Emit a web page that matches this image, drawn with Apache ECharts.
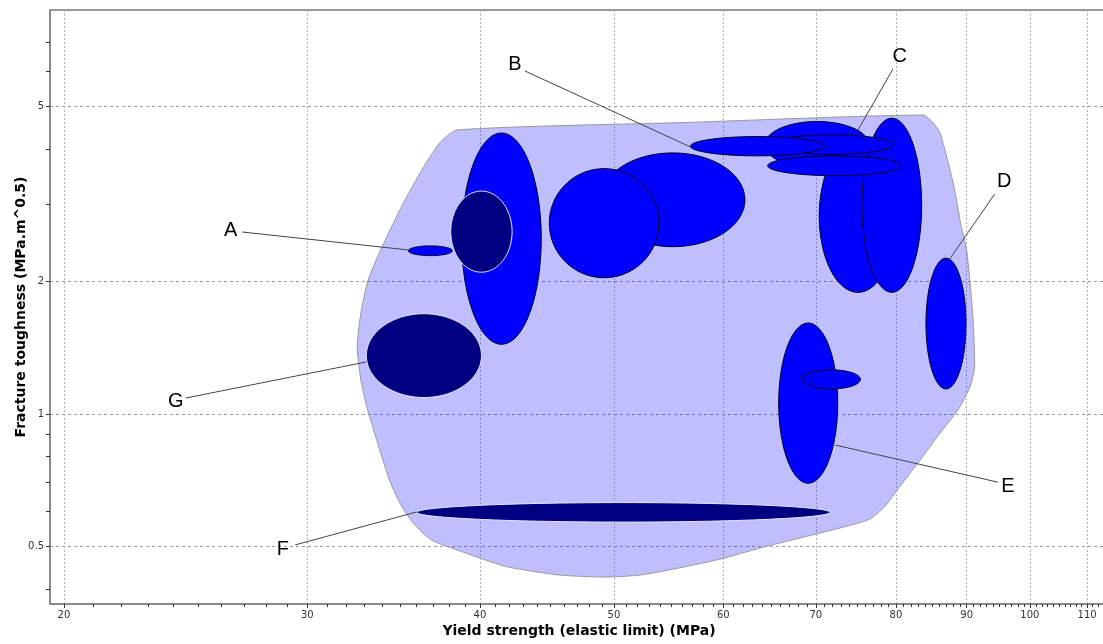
<!DOCTYPE html>
<html><head><meta charset="utf-8">
<script src="https://cdn.jsdelivr.net/npm/echarts@6/dist/echarts.min.js"></script>
<style>html,body{margin:0;padding:0;background:#fff}#c{width:1103px;height:644px}</style>
</head><body><div id="c"></div>
<script>
// ---- axis ranges and ticks (data units) ----
const X_MIN = 19.54, X_MAX = 113.9;
const Y_MIN = 0.370, Y_MAX = 8.28;
const xMajorTicks = [20, 30, 40, 50, 60, 70, 80, 90, 100, 110];
const xMinorTicks = [21,22,23,24,25,26,27,28,29,31,32,33,34,35,36,37,38,39,41,42,43,44,45,46,47,48,49,
  51,52,53,54,55,56,57,58,59,61,62,63,64,65,66,67,68,69,71,72,73,74,75,76,77,78,79,
  81,82,83,84,85,86,87,88,89,91,92,93,94,95,96,97,98,99,101,102,103,104,105,106,107,108,109,111,112,113];
const yMajorTicks = [0.5, 1, 2, 5];
const yMinorTicks = [0.4, 0.6, 0.7, 0.8, 0.9, 3, 4, 6, 7];

// ---- material bubbles (ranges: yield strength MPa, toughness MPa.m^0.5), in drawing order ----
const bubbleXMin = [38.8, 38.1, 35.5, 48.9, 44.9, 64.3, 70.4, 75.6, 64.9, 56.8, 64.6, 84.1, 65.8, 68.4, 33.1, 36.0];
const bubbleXMax = [44.3, 42.2, 38.2, 62.2, 53.9, 76.5, 80.1, 83.5, 79.6, 71.0, 80.7, 89.9, 72.6, 75.4, 40.1, 71.7];
const bubbleYMin = [1.44, 2.10, 2.29, 2.40, 2.04, 3.62, 1.89, 1.89, 3.89, 3.86, 3.48, 1.14, 0.696, 1.14, 1.09, 0.568];
const bubbleYMax = [4.35, 3.21, 2.41, 3.92, 3.61, 4.62, 4.20, 4.70, 4.31, 4.27, 3.86, 2.26, 1.61, 1.26, 1.69, 0.629];
const bubbleKind = ['blue','navy','blue','blue','blue','blue','blue','blue','blue','blue','blue','blue','blue','blue','navy','navy'];

// ---- family envelope outline ----
const envX = [38.5, 56.8, 83.7, 85.0, 86.1, 88.0, 89.2, 90.0, 90.9, 91.2, 90.5, 88.7, 86.1, 83.3, 80.5, 78.6, 76.6, 72.9, 68.2, 63.8, 59.7, 55.2, 52.2, 49.4, 45.7, 41.8, 38.5, 36.9, 35.8, 35.0, 34.4, 33.5, 33.1, 32.8, 32.6, 32.8, 33.2, 33.9, 35.0, 36.2, 37.4];
const envY = [4.42, 4.60, 4.78, 4.61, 4.35, 3.35, 2.666, 2.359, 1.696, 1.279, 1.153, 1.021, 0.905, 0.786, 0.684, 0.618, 0.577, 0.551, 0.523, 0.496, 0.468, 0.444, 0.4305, 0.426, 0.4305, 0.450, 0.491, 0.517, 0.564, 0.628, 0.708, 0.920, 1.048, 1.195, 1.422, 1.696, 2.016, 2.359, 2.908, 3.53, 4.13];

// ---- annotations ----
const labelNames = ['A', 'B', 'C', 'D', 'E', 'F', 'G'];
const labelX = [26.4, 42.4, 80.5, 95.8, 96.4, 28.8, 24.1];
const labelY = [2.606, 6.21, 6.48, 3.37, 0.683, 0.493, 1.065];
const leaderStartX = [26.9, 43.1, 79.6, 94.3, 94.8, 29.4, 24.5];
const leaderStartY = [2.592, 6.02, 6.08, 3.16, 0.700, 0.504, 1.087];
const leaderEndX = [35.5, 56.8, 75.1, 87.4, 72.3, 36.0, 33.1];
const leaderEndY = [2.359, 4.045, 4.42, 2.239, 0.850, 0.599, 1.313];

const L = Math.log10;
const STYLE = {
  blue: { fill: '#0000ff', stroke: '#000022', lineWidth: 1 },
  navy: { fill: '#000080', stroke: '#e6e6f5', lineWidth: 1 }
};

const bubbleData = bubbleXMin.map((v, i) => [L(v), L(bubbleYMin[i]), L(bubbleXMax[i]), L(bubbleYMax[i]), i]);
const labelData = labelNames.map((n, i) => [L(labelX[i]), L(labelY[i]), L(leaderStartX[i]), L(leaderStartY[i]), L(leaderEndX[i]), L(leaderEndY[i]), i]);

const GRID = { left: 50, right: -5, top: 10, bottom: 40, containLabel: false, outerBoundsMode: 'none' };
const font = 'DejaVu Sans';

const chart = echarts.init(document.getElementById('c'), null, { renderer: 'canvas' });
chart.setOption({
  animation: false,
  backgroundColor: '#fff',
  grid: [
    Object.assign({ show: true, borderColor: '#333', borderWidth: 1, backgroundColor: 'transparent' }, GRID),
    Object.assign({ show: false }, GRID)
  ],
  xAxis: [{
    type: 'value', gridIndex: 0, min: L(X_MIN), max: L(X_MAX),
    name: 'Yield strength (elastic limit) (MPa)', nameLocation: 'middle', nameGap: 20, nameMoveOverlap: false,
    nameTextStyle: { fontFamily: font, fontWeight: 'bold', fontSize: 14, color: '#000', verticalAlign: 'top' },
    axisLine: { show: true, onZero: false, lineStyle: { color: '#8a8a8a', width: 2 } },
    axisTick: { show: true, length: 4, customValues: xMajorTicks.map(L), lineStyle: { color: '#333' } },
    axisLabel: { customValues: xMajorTicks.map(L), margin: 6, fontFamily: font, fontSize: 10, color: '#333',
      formatter: v => String(Math.round(Math.pow(10, v))) },
    splitLine: { show: true, lineStyle: { color: '#b0b0b0', type: [2, 2], width: 1 } }
  }, {
    type: 'value', gridIndex: 1, min: L(X_MIN), max: L(X_MAX), position: 'bottom',
    axisLine: { show: false, onZero: false }, axisLabel: { show: false }, splitLine: { show: false },
    axisTick: { show: true, length: 3, customValues: xMinorTicks.map(L), lineStyle: { color: '#333' } }
  }],
  yAxis: [{
    type: 'value', gridIndex: 0, min: L(Y_MIN), max: L(Y_MAX),
    name: 'Fracture toughness (MPa.m^0.5)', nameLocation: 'middle', nameGap: 22, nameMoveOverlap: false,
    nameTextStyle: { fontFamily: font, fontWeight: 'bold', fontSize: 14, color: '#000' },
    axisLine: { show: true, onZero: false, lineStyle: { color: '#8a8a8a', width: 2 } },
    axisTick: { show: true, length: 4, customValues: yMajorTicks.map(L), lineStyle: { color: '#333' } },
    axisLabel: { customValues: yMajorTicks.map(L), margin: 6, fontFamily: font, fontSize: 10, color: '#333',
      formatter: v => String(parseFloat(Math.pow(10, v).toPrecision(2))) },
    splitLine: { show: true, lineStyle: { color: '#999', type: [3, 3], width: 1 } }
  }, {
    type: 'value', gridIndex: 1, min: L(Y_MIN), max: L(Y_MAX), position: 'left',
    axisLine: { show: false, onZero: false }, axisLabel: { show: false }, splitLine: { show: false },
    axisTick: { show: true, length: 4, customValues: yMinorTicks.map(L), lineStyle: { color: '#333' } }
  }],
  series: [{
    type: 'custom', name: 'envelope', xAxisIndex: 0, yAxisIndex: 0, silent: true,
    data: [[L(envX[0]), L(envY[0])]],
    renderItem: (params, api) => {
      const pts = envX.map((x, i) => api.coord([L(x), L(envY[i])]));
      return { type: 'polygon', shape: { points: pts, smooth: 0.2 },
        style: { fill: 'rgba(0,0,255,0.25)', stroke: '#9a9a9a', lineWidth: 1 } };
    }
  }, {
    type: 'custom', name: 'materials', xAxisIndex: 0, yAxisIndex: 0, silent: true,
    encode: { x: [0, 2], y: [1, 3] },
    data: bubbleData,
    renderItem: (params, api) => {
      const p1 = api.coord([api.value(0), api.value(1)]);
      const p2 = api.coord([api.value(2), api.value(3)]);
      const cx = (p1[0] + p2[0]) / 2, cy = (p1[1] + p2[1]) / 2;
      const rx = Math.abs(p2[0] - p1[0]) / 2, ry = Math.abs(p2[1] - p1[1]) / 2;
      const pts = [];
      for (let k = 0; k < 120; k++) {
        const t = k / 120 * Math.PI * 2;
        pts.push([cx + rx * Math.cos(t), cy + ry * Math.sin(t)]);
      }
      const st = STYLE[bubbleKind[api.value(4)]];
      return { type: 'polygon', shape: { points: pts }, style: Object.assign({}, st) };
    }
  }, {
    type: 'custom', name: 'labels', xAxisIndex: 0, yAxisIndex: 0, silent: true,
    encode: { x: [0, 2, 4], y: [1, 3, 5] },
    data: labelData,
    renderItem: (params, api) => {
      const lp = api.coord([api.value(0), api.value(1)]);
      const s = api.coord([api.value(2), api.value(3)]);
      const e = api.coord([api.value(4), api.value(5)]);
      return { type: 'group', children: [
        { type: 'line', shape: { x1: s[0], y1: s[1], x2: e[0], y2: e[1] }, style: { stroke: '#444', lineWidth: 1 } },
        { type: 'text', x: lp[0], y: lp[1], style: { text: labelNames[api.value(6)], fill: '#000',
          font: '20px "Liberation Sans", Arial, sans-serif', textAlign: 'center', textVerticalAlign: 'middle',
          align: 'center', verticalAlign: 'middle' } }
      ] };
    }
  }]
});
</script></body></html>
